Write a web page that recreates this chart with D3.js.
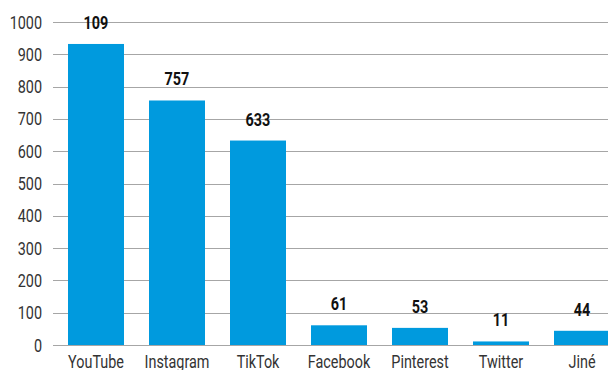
<!DOCTYPE html>
<html>
<head>
<meta charset="utf-8">
<script src="https://cdn.jsdelivr.net/npm/d3@7"></script>
<style>
  body { margin: 0; background: #fff; }
  svg { display: block; font-family: "Roboto", sans-serif; }
</style>
</head>
<body>
<svg width="608" height="370"></svg>
<script>
const categories = ["YouTube", "Instagram", "TikTok", "Facebook", "Pinterest", "Twitter", "Jiné"]
const values = [932, 757, 633, 61, 53, 11, 44]
const valueLabels = ["109", "757", "633", "61", "53", "11", "44"]
const yTicks = [0, 100, 200, 300, 400, 500, 600, 700, 800, 900, 1000]

// condensed look: squeeze the text horizontally
const squeeze = 0.8

const svg = d3.select("svg")

const y = d3.scaleLinear().domain([0, 1000]).range([345, 22])
const x = d3.scaleBand()
    .domain(categories)
    .range([55.5, 622.5])
    .paddingInner(25 / 81)
    .paddingOuter(25 / 162)

// grid lines
svg.append("g")
    .selectAll("line")
    .data(yTicks)
    .join("line")
    .attr("x1", 53)
    .attr("x2", 608)
    .attr("y1", d => Math.round(y(d)) + 0.5)
    .attr("y2", d => Math.round(y(d)) + 0.5)
    .attr("stroke", "#a6a6a6")
    .attr("stroke-width", 1)

// y tick labels
svg.append("g")
    .selectAll("text")
    .data(yTicks)
    .join("text")
    .attr("transform", d => `translate(42,${y(d) + 6.5}) scale(${squeeze},1)`)
    .attr("text-anchor", "end")
    .attr("font-size", 18)
    .attr("fill", "#333")
    .text(d => d)

// bars
svg.append("g")
    .selectAll("rect")
    .data(values)
    .join("rect")
    .attr("x", (d, i) => x(categories[i]))
    .attr("width", x.bandwidth())
    .attr("y", d => y(d))
    .attr("height", d => y(0) - y(d))
    .attr("fill", "#009ade")

// value labels
svg.append("g")
    .selectAll("text")
    .data(values)
    .join("text")
    .attr("transform", (d, i) => `translate(${x(categories[i]) + x.bandwidth() / 2},${y(d) - 15}) scale(${squeeze},1)`)
    .attr("text-anchor", "middle")
    .attr("font-size", 18)
    .attr("font-weight", "bold")
    .attr("fill", "#111")
    .text((d, i) => valueLabels[i])

// category labels
svg.append("g")
    .selectAll("text")
    .data(categories)
    .join("text")
    .attr("transform", d => `translate(${x(d) + x.bandwidth() / 2},368) scale(${squeeze},1)`)
    .attr("text-anchor", "middle")
    .attr("font-size", 18)
    .attr("fill", "#333")
    .text(d => d)
</script>
</body>
</html>
